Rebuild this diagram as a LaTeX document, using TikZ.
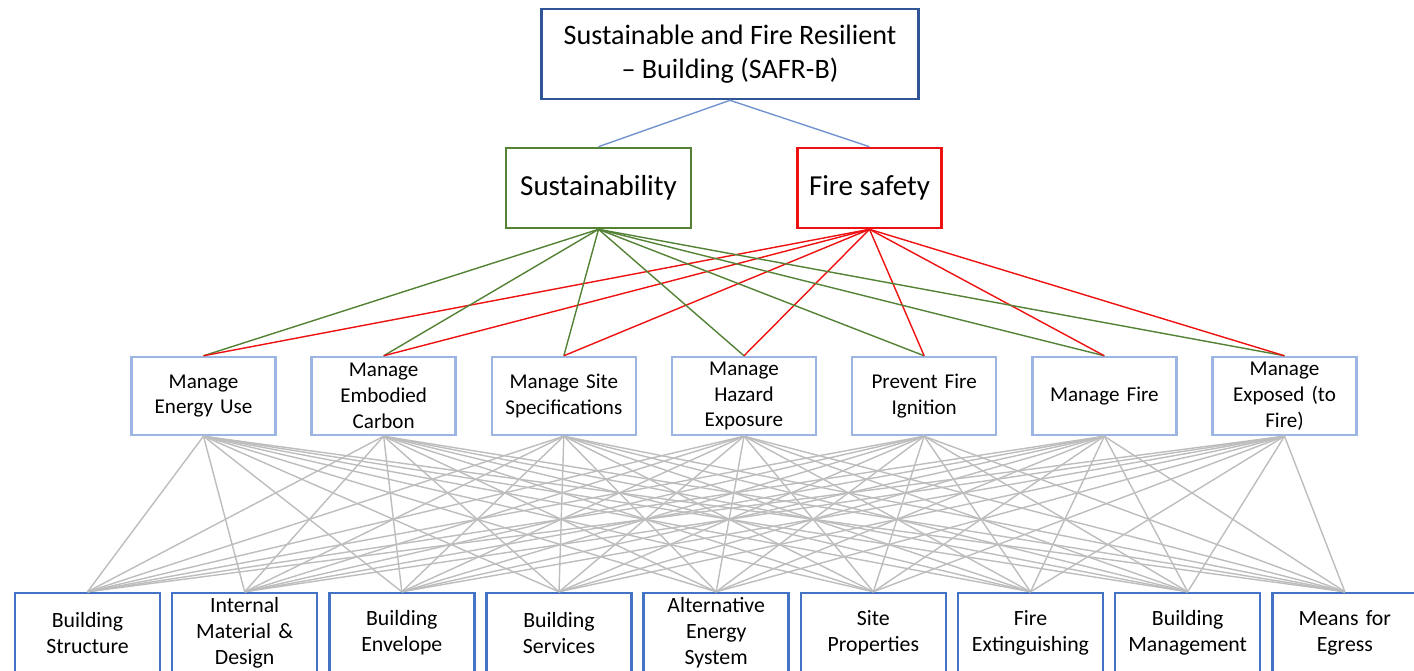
\documentclass[tikz,border=0pt]{standalone}
\usepackage{fontspec}
\setmainfont{Carlito}
\usetikzlibrary{positioning}

\definecolor{topBlue}{HTML}{2F5597}
\definecolor{linkBlue}{HTML}{7394CF}
\definecolor{sustGreen}{HTML}{548235}
\definecolor{fireRed}{HTML}{EE1111}
\definecolor{midBlue}{HTML}{9DB5E2}
\definecolor{botBlue}{HTML}{4472C4}
\definecolor{linkGray}{HTML}{BDBDBD}

\begin{document}
\begin{tikzpicture}[
    x=0.02cm,y=-0.02cm,
    goalNode/.style={draw=topBlue,line width=1.5pt,fill=white,align=center,
      minimum width=7.54cm,minimum height=1.8cm,font=\fontsize{16}{19.3}\selectfont},
    aspectNode/.style={draw,line width=1.5pt,fill=white,align=center,
      minimum height=1.6cm,font=\fontsize{16.5}{19}\selectfont},
    midNode/.style={draw=midBlue,line width=1.4pt,fill=white,align=center,
      minimum width=2.88cm,minimum height=1.56cm,text width=2.6cm,inner ysep=1pt,
      node distance=3.604cm,font=\fontsize{12}{14.7}\selectfont},
    botNode/.style={draw=botBlue,line width=1.4pt,fill=white,align=center,
      minimum width=2.9cm,minimum height=1.6cm,text width=2.62cm,inner ysep=1pt,
      node distance=3.144cm,font=\fontsize{12.4}{14.7}\selectfont},
    blueLink/.style={linkBlue,line width=0.8pt},
    greenLink/.style={sustGreen,line width=0.8pt},
    redLink/.style={fireRed,line width=0.8pt},
    grayLink/.style={linkGray,line width=0.8pt}
  ]
    \useasboundingbox (0,0) rectangle (1414,671);

    % goal and aspects
    \node[goalNode] (safr) at (730,54) {Sustainable and Fire Resilient\\ – Building (SAFR-B)};
    \node[aspectNode,draw=sustGreen,minimum width=3.7cm] (sust) at (598.5,188) {Sustainability};
    \node[aspectNode,draw=fireRed,minimum width=2.88cm] (fire) at (869.5,188) {Fire safety};

    % strategies
    \node[midNode] (energy) at (203.5,396) {Manage\\ Energy Use};
    \node[midNode, right of=energy] (carbon) {Manage\\ Embodied\\ Carbon};
    \node[midNode, right of=carbon] (site) {Manage Site\\ Specifications};
    \node[midNode, right of=site] (hazard) {Manage\\ Hazard\\ Exposure};
    \node[midNode, right of=hazard] (ignition) {Prevent Fire\\ Ignition};
    \node[midNode, right of=ignition] (fight) {Manage Fire};
    \node[midNode, right of=fight] (exposed) {Manage\\ Exposed (to\\ Fire)};

    % building features
    \node[botNode] (structure) at (87.5,633) {Building\\ Structure};
    \node[botNode, right of=structure] (internal) {Internal\\ Material \&\\ Design};
    \node[botNode, right of=internal] (envelope) {Building\\ Envelope};
    \node[botNode, right of=envelope] (services) {Building\\ Services};
    \node[botNode, right of=services] (altenergy) {Alternative\\ Energy\\ System};
    \node[botNode, right of=altenergy] (siteprop) {Site\\ Properties};
    \node[botNode, right of=siteprop] (extinguish) {Fire\\ Extinguishing};
    \node[botNode, right of=extinguish] (management) {Building\\ Management};
    \node[botNode, right of=management] (egress) {Means for\\ Egress};

    % links
    \draw[blueLink] (safr.south) -- (sust.north);
    \draw[blueLink] (safr.south) -- (fire.north);
    \foreach \m in {energy,carbon,site,hazard,ignition,fight,exposed}{
      \draw[greenLink] (sust.south) -- (\m.north);
      \draw[redLink] (fire.south) -- (\m.north);
      \foreach \b in {structure,internal,envelope,services,altenergy,siteprop,extinguish,management,egress}
        \draw[grayLink] (\m.south) -- (\b.north);
    }
  \end{tikzpicture}
\end{document}
